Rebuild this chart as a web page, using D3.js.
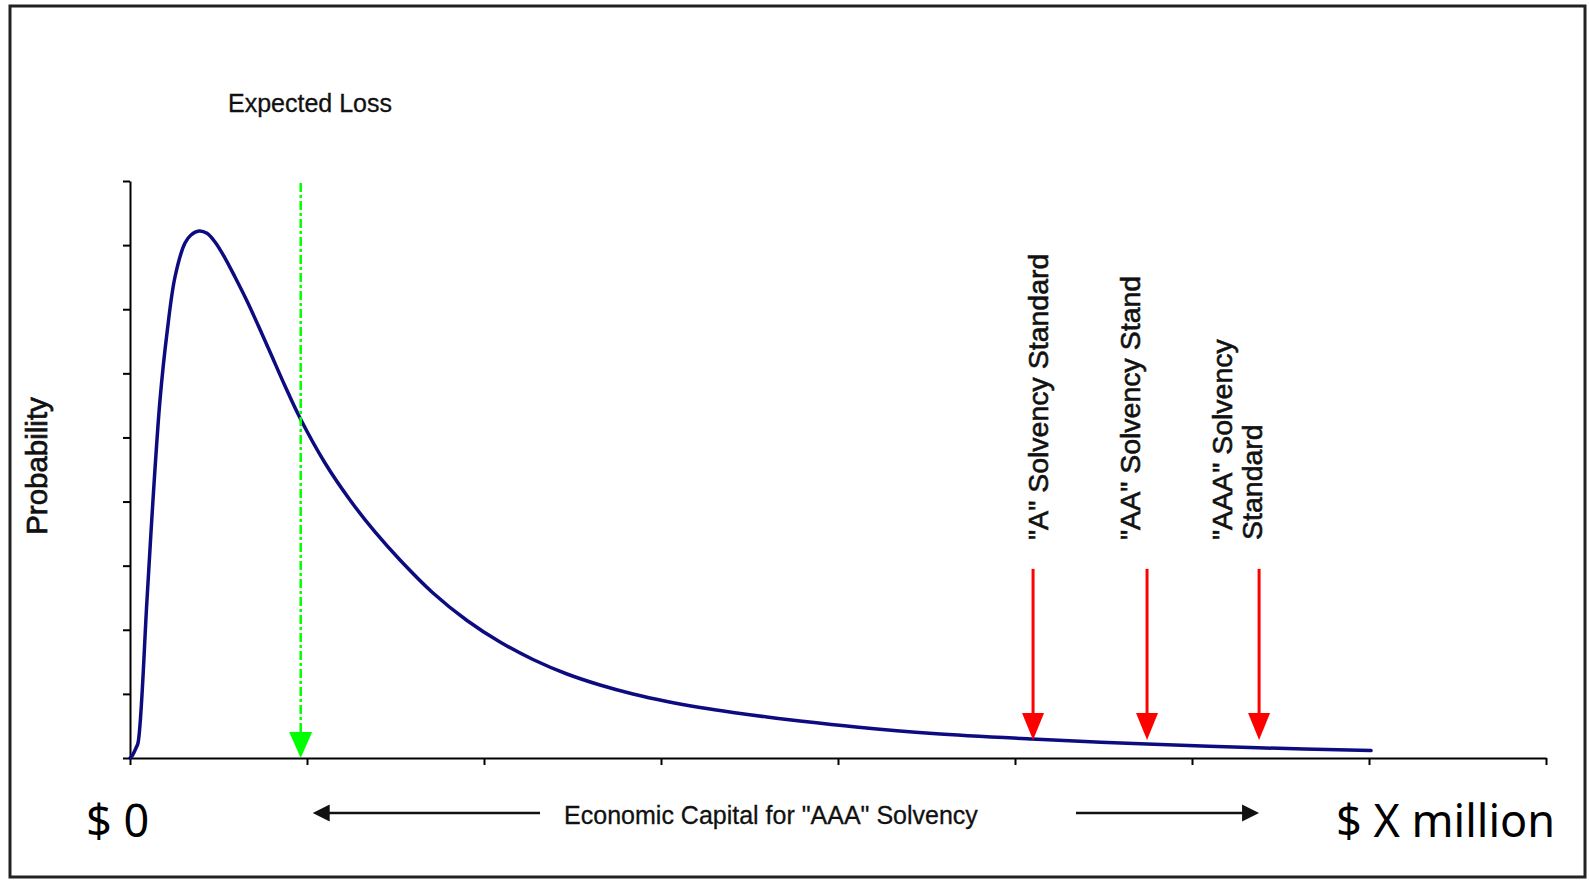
<!DOCTYPE html>
<html>
<head>
<meta charset="utf-8">
<script src="https://cdn.jsdelivr.net/npm/d3@7"></script>
<style>
  html, body { margin: 0; padding: 0; background: #fff; }
  svg { display: block; }
  text { font-family: "Liberation Sans", Arial, Helvetica, sans-serif; fill: #111; }
</style>
</head>
<body>
<svg id="chart" width="1589" height="880"></svg>
<script>
// Loss amount (in tick units) and probability density of the credit loss distribution
const lossX = [0, 0.0113, 0.0339, 0.0452, 0.0960, 0.1299, 0.1695, 0.2090, 0.2542, 0.3107,
  0.3446, 0.3898, 0.4350, 0.4802, 0.5367, 0.5932, 0.6610, 0.7232, 0.7910, 0.8757, 0.9605,
  1.1017, 1.2429, 1.3842, 1.5254, 1.7119, 1.9040, 2.0904, 2.2768, 2.4689, 2.6554, 2.8418,
  3.0339, 3.2203, 3.4068, 3.5989, 3.7853, 4.1017, 4.5367, 5.0960, 5.7458, 6.3729, 7.0113];
const density = [0, 0.0312, 0.1560, 0.2340, 2.4645, 4.0243, 5.5841, 6.6291, 7.5026, 8.0329,
  8.1577, 8.2201, 8.1843, 8.0485, 7.7989, 7.5026, 7.1282, 6.7539, 6.3327, 5.8024, 5.3033,
  4.6014, 4.0243, 3.5252, 3.0884, 2.5737, 2.1447, 1.8094, 1.5364, 1.3102, 1.1386, 0.9983,
  0.8813, 0.7877, 0.7097, 0.6395, 0.5771, 0.4835, 0.3822, 0.2964, 0.2184, 0.1591, 0.1154];

const xTicks = d3.range(0, 9);
const yTicks = d3.range(0, 10);

// Expected loss and the solvency-standard capital levels
const expectedLoss = 0.9644;
const standardNames = ['"A" Solvency Standard', '"AA" Solvency Stand', '"AAA" Solvency\nStandard'];
const standardX = [5.102, 5.746, 6.379];

const yLabel = "Probability";
const elLabel = "Expected Loss";
const capitalLabel = 'Economic Capital for "AAA" Solvency';
const endLabels = ["$ 0", "$ X million"];

const svg = d3.select("#chart");

const x = d3.scaleLinear().domain([0, 8]).range([130, 1546]);
const y = d3.scaleLinear().domain([0, 9]).range([758, 181]);

// outer frame
svg.append("rect")
  .attr("x", 10).attr("y", 6).attr("width", 1575).attr("height", 871)
  .attr("fill", "#fff").attr("stroke", "#222").attr("stroke-width", 3);

// axes (unlabelled ticks)
const gx = svg.append("g")
  .attr("transform", `translate(0,${y(0)})`)
  .call(d3.axisBottom(x).tickValues(xTicks).tickFormat("").tickSize(7).tickSizeOuter(0));
const gy = svg.append("g")
  .attr("transform", `translate(${x(0)},0)`)
  .call(d3.axisLeft(y).tickValues(yTicks).tickFormat("").tickSize(7).tickSizeOuter(0));
[gx, gy].forEach(g => {
  g.select(".domain").attr("stroke", "#000").attr("stroke-width", 2);
  g.selectAll(".tick line").attr("stroke", "#000").attr("stroke-width", 2);
});

// loss distribution curve
const pts = lossX.map((v, i) => [v, density[i]]);
svg.append("path")
  .datum(pts)
  .attr("fill", "none")
  .attr("stroke", "#0c0c80")
  .attr("stroke-width", 3.5)
  .attr("stroke-linejoin", "round")
  .attr("stroke-linecap", "round")
  .attr("d", d3.line().x(d => x(d[0])).y(d => y(d[1])).curve(d3.curveCatmullRom.alpha(0.5)));

// expected loss marker
const elX = x(expectedLoss);
const headH = 26, headW = 11.5;
svg.append("line")
  .attr("x1", elX).attr("x2", elX)
  .attr("y1", y(9) + 2).attr("y2", y(0) - headH + 2)
  .attr("stroke", "#00ff00").attr("stroke-width", 2.5)
  .attr("stroke-dasharray", "9,3,3,3");
svg.append("path")
  .attr("d", `M${elX - headW},${y(0) - headH}L${elX + headW},${y(0) - headH}L${elX},${y(0)}Z`)
  .attr("fill", "#00ff00");

svg.append("text")
  .attr("x", 228).attr("y", 112)
  .attr("font-size", 25)
  .attr("stroke", "#111").attr("stroke-width", 0.3)
  .text(elLabel);

// solvency standard arrows
const arrowTop = y(2.95), arrowTip = y(0.28);
const labelShift = [15, -7, -27];
standardX.forEach((sx, i) => {
  const ax = x(sx);
  svg.append("line")
    .attr("x1", ax).attr("x2", ax)
    .attr("y1", arrowTop).attr("y2", arrowTip - headH + 2)
    .attr("stroke", "#ff0000").attr("stroke-width", 3);
  svg.append("path")
    .attr("d", `M${ax - 11},${arrowTip - 27}L${ax + 11},${arrowTip - 27}L${ax},${arrowTip}Z`)
    .attr("fill", "#ff0000");
  standardNames[i].split("\n").forEach((line, j) => {
    const bx = ax + labelShift[i] + j * 30;
    svg.append("text")
      .attr("transform", `translate(${bx},540) rotate(-90)`)
      .attr("font-size", 28.5)
      .attr("stroke", "#111").attr("stroke-width", 0.6)
      .text(line);
  });
});

// y-axis title
svg.append("text")
  .attr("transform", `translate(47,466) rotate(-90)`)
  .attr("text-anchor", "middle")
  .attr("font-size", 29.5)
  .attr("stroke", "#111").attr("stroke-width", 0.7)
  .text(yLabel);

// economic capital span
const spanY = 813;
const spanL = x(expectedLoss) + 12, spanR = x(standardX[2]);
svg.append("line").attr("x1", spanL + 14).attr("x2", 540).attr("y1", spanY).attr("y2", spanY)
  .attr("stroke", "#111").attr("stroke-width", 2.5);
svg.append("path")
  .attr("d", `M${spanL},${spanY}L${spanL + 17},${spanY - 8.5}L${spanL + 17},${spanY + 8.5}Z`)
  .attr("fill", "#111");
svg.append("line").attr("x1", 1076).attr("x2", spanR - 14).attr("y1", spanY).attr("y2", spanY)
  .attr("stroke", "#111").attr("stroke-width", 2.5);
svg.append("path")
  .attr("d", `M${spanR},${spanY}L${spanR - 17},${spanY - 8.5}L${spanR - 17},${spanY + 8.5}Z`)
  .attr("fill", "#111");
svg.append("text")
  .attr("x", 771).attr("y", 824)
  .attr("text-anchor", "middle")
  .attr("font-size", 25)
  .attr("stroke", "#111").attr("stroke-width", 0.3)
  .text(capitalLabel);

// end-of-axis amounts
svg.append("text")
  .attr("x", 86).attr("y", 837)
  .style("font-family", '"Noto Sans", sans-serif')
  .attr("font-size", 45)
  .style("fill", "#000")
  .text(endLabels[0]);
svg.append("text")
  .attr("x", 1336).attr("y", 837)
  .style("font-family", '"Noto Sans", sans-serif')
  .attr("font-size", 45)
  .style("fill", "#000")
  .text(endLabels[1]);
</script>
</body>
</html>
